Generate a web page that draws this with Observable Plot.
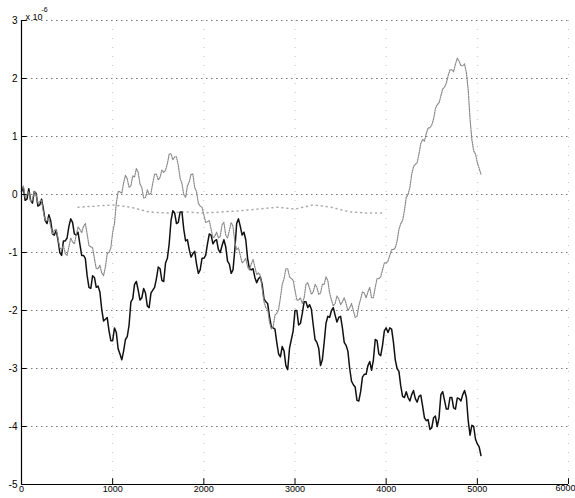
<!DOCTYPE html>
<html><head><meta charset="utf-8">
<script src="https://cdn.jsdelivr.net/npm/d3@7"></script>
<script src="https://cdn.jsdelivr.net/npm/@observablehq/plot@0.6"></script>
<style>body{margin:0;background:#fff}#chart{width:575px;height:498px}</style>
</head><body><div id="chart"></div>
<script>
const xTicks = [0, 1000, 2000, 3000, 4000, 5000, 6000];
const yTicks = [3, 2, 1, 0, -1, -2, -3, -4, -5];
const sampleStep = 20; // samples every 20 units, starting at 0

const blackY = [
0.05,0.12,-0.1,-0.08,0.1,-0.1,-0.15,0.05,0.02,-0.2,
-0.18,-0.08,-0.25,-0.45,-0.5,-0.35,-0.45,-0.68,-0.7,-0.62,
-0.78,-1.0,-1.05,-0.8,-0.8,-0.75,-0.55,-0.42,-0.48,-0.68,
-0.7,-0.65,-0.85,-1.05,-1.05,-1.1,-1.4,-1.6,-1.62,-1.4,
-1.43,-1.6,-1.58,-1.68,-1.98,-2.18,-2.15,-2.12,-2.35,-2.52,
-2.52,-2.3,-2.38,-2.66,-2.75,-2.85,-2.7,-2.5,-2.45,-2.25,
-1.85,-1.8,-1.55,-1.5,-1.65,-1.82,-1.78,-1.62,-1.7,-1.92,
-1.95,-1.7,-1.65,-1.6,-1.45,-1.25,-1.28,-1.48,-1.5,-1.18,
-1.1,-0.85,-0.45,-0.28,-0.32,-0.5,-0.48,-0.3,-0.3,-0.6,
-0.8,-0.78,-0.95,-1.08,-1.02,-0.98,-1.2,-1.36,-1.3,-1.1,
-1.1,-1.05,-0.85,-0.68,-0.7,-0.85,-0.8,-0.78,-0.95,-1.0,
-0.88,-0.78,-0.9,-1.15,-1.2,-1.36,-1.3,-0.95,-0.5,-0.42,
-0.55,-0.7,-0.65,-0.78,-1.1,-1.28,-1.3,-1.28,-1.43,-1.52,
-1.45,-1.42,-1.55,-1.8,-1.85,-1.88,-2.1,-2.28,-2.3,-2.32,
-2.55,-2.75,-2.8,-2.62,-2.7,-2.95,-3.02,-2.65,-2.5,-2.35,
-2.0,-2.0,-2.25,-2.22,-2.05,-1.85,-1.85,-1.95,-1.9,-1.98,
-2.25,-2.5,-2.55,-2.65,-2.95,-2.85,-2.55,-2.22,-2.1,-2.12,
-2.0,-1.95,-2.08,-2.2,-2.12,-2.1,-2.3,-2.55,-2.6,-2.7,
-3.0,-3.22,-3.28,-3.32,-3.55,-3.56,-3.4,-3.15,-3.1,-3.1,
-2.95,-2.88,-3.03,-2.85,-2.5,-2.52,-2.75,-2.78,-2.6,-2.35,
-2.3,-2.38,-2.3,-2.32,-2.55,-2.85,-3.0,-3.05,-3.3,-3.48,
-3.5,-3.4,-3.5,-3.56,-3.45,-3.38,-3.52,-3.58,-3.48,-3.46,
-3.65,-3.85,-3.9,-3.88,-4.05,-4.02,-3.85,-3.82,-4.0,-3.85,
-3.45,-3.4,-3.55,-3.7,-3.7,-3.5,-3.5,-3.68,-3.7,-3.51,
-3.52,-3.56,-3.45,-3.38,-3.5,-3.9,-4.15,-3.98,-4.0,-4.22,
-4.3,-4.35,-4.5
];

const grayY = [
0.08,0.15,-0.05,0.0,0.05,-0.12,-0.1,0.06,0.0,-0.15,
-0.12,-0.1,-0.3,-0.45,-0.45,-0.4,-0.55,-0.68,-0.62,-0.6,
-0.75,-0.92,-0.95,-0.88,-1.02,-1.05,-0.9,-0.75,-0.82,-0.85,
-0.7,-0.56,-0.6,-0.66,-0.55,-0.5,-0.68,-0.88,-0.9,-0.92,
-1.1,-1.28,-1.28,-1.22,-1.35,-1.4,-1.25,-1.02,-1.0,-0.92,
-0.65,-0.5,-0.15,0.05,0.05,0.02,0.2,0.33,0.27,0.12,
0.15,0.32,0.3,0.45,0.38,0.18,0.12,-0.06,-0.05,0.08,
0.0,0.02,0.2,0.35,0.35,0.25,0.3,0.42,0.38,0.42,
0.53,0.7,0.7,0.6,0.65,0.65,0.5,0.28,0.19,0.0,
-0.05,0.15,0.22,0.35,0.35,0.12,0.05,-0.15,-0.2,-0.22,
-0.35,-0.48,-0.47,-0.45,-0.6,-0.75,-0.72,-0.65,-0.75,-0.72,
-0.52,-0.48,-0.7,-0.75,-0.62,-0.48,-0.55,-0.82,-0.95,-0.92,
-1.05,-1.18,-1.15,-1.1,-1.25,-1.3,-1.2,-1.12,-1.25,-1.38,
-1.35,-1.4,-1.62,-1.85,-1.95,-1.98,-2.2,-2.32,-2.28,-2.08,
-2.05,-1.98,-1.78,-1.55,-1.45,-1.28,-1.28,-1.42,-1.45,-1.48,
-1.65,-1.82,-1.82,-1.78,-1.88,-1.78,-1.55,-1.52,-1.62,-1.72,
-1.68,-1.55,-1.6,-1.72,-1.7,-1.55,-1.55,-1.42,-1.48,-1.7,
-1.82,-1.92,-1.88,-1.75,-1.8,-1.9,-1.85,-1.78,-1.88,-2.0,
-1.95,-1.88,-2.0,-2.12,-2.1,-1.92,-1.8,-1.68,-1.7,-1.78,
-1.68,-1.6,-1.78,-1.78,-1.6,-1.45,-1.45,-1.42,-1.3,-1.18,
-1.18,-1.15,-1.05,-0.95,-0.95,-0.92,-0.8,-0.6,-0.5,-0.45,
-0.28,-0.05,0.0,0.12,0.35,0.48,0.52,0.55,0.7,0.88,
0.95,0.92,1.05,1.15,1.15,1.2,1.3,1.48,1.55,1.58,
1.7,1.82,1.85,1.92,2.05,2.15,2.15,2.12,2.25,2.35,
2.3,2.22,2.22,2.25,2.1,1.8,1.3,0.95,0.75,0.7,
0.55,0.45,0.35
];

const faintX = [620, 800, 1000, 1200, 1400, 1600, 1800, 2000, 2200, 2400, 2600, 2800, 3000, 3200, 3400, 3600, 3800, 3980];
const faintY = [-0.22, -0.2, -0.18, -0.22, -0.3, -0.32, -0.3, -0.32, -0.3, -0.28, -0.25, -0.22, -0.25, -0.18, -0.22, -0.3, -0.32, -0.32];

const toRows = ys => ys.map((y, i) => ({x: i * sampleStep, y}));
const black = toRows(blackY);
const gray = toRows(grayY);
const faint = faintX.map((x, i) => ({x, y: faintY[i]}));
const lastTick = xTicks[xTicks.length - 1];

const chart = Plot.plot({
  width: 575, height: 498,
  marginLeft: 21, marginRight: 7, marginTop: 20, marginBottom: 14,
  x: {domain: [0, 6000], label: null},
  y: {domain: [-5, 3], label: null},
  style: {fontFamily: "'Liberation Sans', Arial, sans-serif", fontSize: "10px", color: "#000", background: "#fff", overflow: "visible"},
  marks: [
    Plot.ruleY(yTicks, {stroke: "#777", strokeDasharray: "1.5,3.5"}),
    Plot.ruleX(xTicks.slice(1), {stroke: "#aaa", strokeDasharray: "1,8", strokeOpacity: 0.7}),
    Plot.line(faint, {x: "x", y: "y", stroke: "#aaa", strokeDasharray: "1,4"}),
    Plot.line(black, {x: "x", y: "y", stroke: "#111", strokeWidth: 1.5}),
    Plot.line(gray, {x: "x", y: "y", stroke: "#888", strokeWidth: 1.2, strokeDasharray: "1.2,1.2"}),
    Plot.ruleX([0], {stroke: "#000", strokeWidth: 1.2}),
    Plot.ruleY([-5], {stroke: "#000", strokeWidth: 1.2}),
    Plot.ruleX(xTicks, {y1: -5, y2: -4.9, stroke: "#000"}),
    Plot.ruleY(yTicks, {x1: 0, x2: 60, stroke: "#000"}),
    Plot.axisX({ticks: xTicks.slice(0, -1), tickSize: 0, tickPadding: 1, tickFormat: d => String(d), fontSize: 9, label: null}),
    Plot.text([lastTick], {x: d => d, frameAnchor: "bottom", text: d => String(d), textAnchor: "end", dx: 7, dy: 6, fontSize: 9}),
    Plot.axisY({ticks: yTicks, tickSize: 0, tickPadding: 4, tickFormat: d => String(d), label: null}),
    Plot.text(["x 10"], {frameAnchor: "top-left", text: d => d, dx: 4, dy: -7, textAnchor: "start", fontSize: 9}),
    Plot.text(["-6"], {frameAnchor: "top-left", text: d => d, dx: 20, dy: -13, textAnchor: "start", fontSize: 7})
  ]
});
document.getElementById("chart").append(chart);
</script>
</body></html>
